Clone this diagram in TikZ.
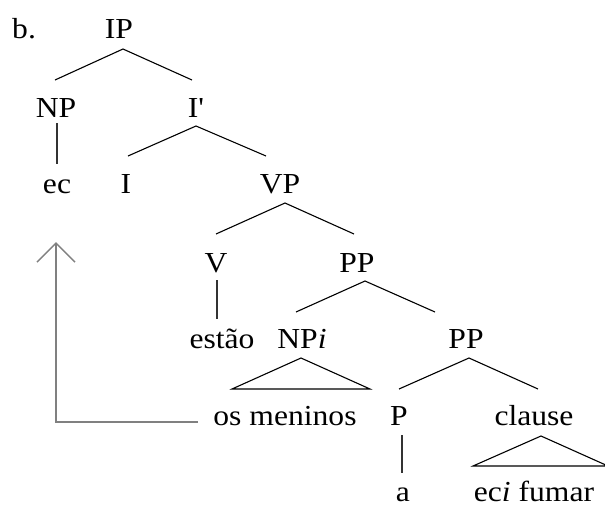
\documentclass[tikz,border=0pt]{standalone}
\usepackage{fontspec}
\setmainfont{Liberation Serif}[FakeStretch=1.09]
\newfontfamily\plainserif{Liberation Serif}[FakeStretch=1.09]
\usetikzlibrary{arrows.meta}
\begin{document}
\begin{tikzpicture}[x=1pt,y=-1pt,
  lbl/.style={anchor=base,inner sep=0pt,font=\fontsize{29}{32}\selectfont},
  edge/.style={line width=1.1pt,black},
  stem/.style={line width=1.1pt,black!80},
  move/.style={line width=1.5pt,gray,-{Straight Barb[length=19pt,width=38pt,line width=1.5pt]}}]
\useasboundingbox (0,0) rectangle (605,504);
% labels
\node[lbl,anchor=base west] (b) at (12,38) {b.};
\node[lbl] (IP) at (119,38) {IP};
\node[lbl] (NP) at (56,117) {NP};
\node[lbl] (Ibar) at (196,117) {\plainserif I'};
\node[lbl] (ec) at (57,193) {ec};
\node[lbl] (I) at (126,193) {I};
\node[lbl] (VP) at (280,193) {VP};
\node[lbl] (V) at (216,272) {V};
\node[lbl] (PP1) at (357,272) {PP};
\node[lbl] (est) at (222,348) {estão};
\node[lbl] (NPi) at (302,348) {NP\textit{i}};
\node[lbl] (PP2) at (466,348) {PP};
\node[lbl] (men) at (285,425) {os meninos};
\node[lbl] (P) at (399,425) {P};
\node[lbl] (cl) at (534,425) {clause};
\node[lbl] (a) at (403,501) {a};
\node[lbl] (ecf) at (534,501) {ec\textit{i} fumar};
% branch points
\coordinate (ipA) at (123,49);  \coordinate (ipL) at (55,80);   \coordinate (ipR) at (192,80);
\coordinate (npA) at (57,123);  \coordinate (npB) at (57,164);
\coordinate (ibA) at (196,126); \coordinate (ibL) at (128,156); \coordinate (ibR) at (266,156);
\coordinate (vpA) at (285,203); \coordinate (vpL) at (216,234); \coordinate (vpR) at (354,234);
\coordinate (vA) at (217,280);  \coordinate (vB) at (217,319);
\coordinate (ppA) at (365,281); \coordinate (ppL) at (296,312); \coordinate (ppR) at (435,312);
\coordinate (tA) at (301,358);  \coordinate (tL) at (232,389);  \coordinate (tR) at (370,389);
\coordinate (qA) at (469,358);  \coordinate (qL) at (399,389);  \coordinate (qR) at (538,389);
\coordinate (pA) at (402,435);  \coordinate (pB) at (402,473);
\coordinate (cA) at (541,436);  \coordinate (cL) at (473,466);  \coordinate (cR) at (608,466);
\coordinate (mvS) at (198,422); \coordinate (mvC) at (56,422);  \coordinate (mvE) at (56,242);
% edges
\draw[edge] (ipL) -- (ipA) -- (ipR);
\draw[stem] (npA) -- (npB);
\draw[edge] (ibL) -- (ibA) -- (ibR);
\draw[edge] (vpL) -- (vpA) -- (vpR);
\draw[stem] (vA) -- (vB);
\draw[edge] (ppL) -- (ppA) -- (ppR);
\draw[edge] (tA) -- (tL) -- (tR) -- cycle;
\draw[edge] (qL) -- (qA) -- (qR);
\draw[stem] (pA) -- (pB);
\draw[edge] (cA) -- (cL) -- (cR) -- cycle;
\draw[move] (mvS) -- (mvC) -- (mvE);
\end{tikzpicture}
\end{document}
